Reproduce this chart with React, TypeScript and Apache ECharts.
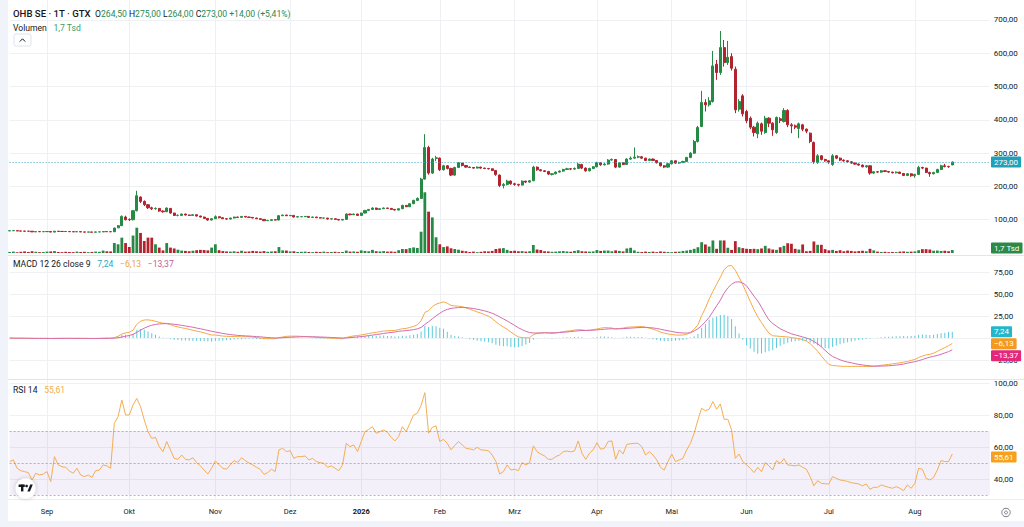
import React, { useEffect, useRef } from "react";
import * as echarts from "echarts";

// ---------- categories ----------
const FIRST_DAY = "2025-08-18";
const FUTURE_SLOTS = 10;
const HOLIDAYS = ["2025-12-24", "2025-12-25", "2025-12-26", "2025-12-31", "2026-01-01", "2026-04-03", "2026-04-06", "2026-05-01"];
const MONTH_NAMES = ["Jan", "Feb", "Mrz", "Apr", "Mai", "Jun", "Jul", "Aug", "Sep", "Okt", "Nov", "Dez"];

// ---------- series values ----------
// [open, close, low, high]
const ohlc: number[][] = [
  [66.5, 67.0, 66.0, 67.5], [67.0, 67.2, 66.5, 67.8], [67.0, 66.2, 65.8, 67.2], [66.2, 65.8, 65.4, 66.5], [65.8, 65.6, 65.0, 66.0],
  [65.6, 65.4, 65.0, 66.0], [65.4, 63.5, 63.0, 65.5], [63.5, 64.3, 63.2, 64.6], [64.3, 64.0, 63.6, 64.5], [64.0, 64.2, 63.8, 64.6],
  [64.2, 64.5, 64.0, 64.9], [64.5, 62.8, 62.5, 64.6], [62.8, 65.5, 62.6, 66.0], [65.5, 64.8, 64.4, 65.8], [64.8, 64.6, 64.2, 65.0],
  [64.6, 64.5, 64.0, 64.9], [64.5, 64.0, 63.7, 64.7], [64.0, 63.6, 63.3, 64.2], [63.6, 64.2, 63.4, 64.4], [64.2, 63.2, 63.0, 64.3],
  [63.2, 62.8, 62.5, 63.4], [62.8, 63.1, 62.6, 63.4], [63.1, 62.5, 62.2, 63.2], [62.5, 63.3, 62.3, 63.6], [63.3, 63.4, 63.0, 63.8],
  [63.4, 64.3, 63.2, 64.6], [64.3, 64.1, 63.8, 64.5], [64.1, 63.8, 63.4, 64.3],
  [63.8, 75, 63.5, 76], [75.5, 82, 75, 84], [82, 110, 81, 113], [108, 100, 98, 112], [101, 100, 96, 104], [100, 127, 98, 129], [127, 172, 125, 187],
  [168, 155, 150, 170], [155, 145, 141, 158], [145, 136, 132, 147], [136, 133, 129, 139], [133, 134, 130, 137],
  [134, 126, 124, 135], [126, 124, 121, 128], [124, 135, 123, 137], [134, 120, 118, 135], [120, 113, 111, 121],
  [113, 113, 110, 116], [113, 117, 112, 118], [117, 114, 113, 118], [114, 113, 111, 115], [113, 115, 112, 116],
  [115, 111, 110, 116], [111, 108, 107, 112], [108, 104, 103, 109], [104, 99, 97, 105], [99, 103, 98, 104],
  [103, 109, 102, 113], [109, 106, 104, 110], [106, 103, 102, 107], [103, 102, 100, 104], [102, 105, 101, 106],
  [105, 108, 104, 109], [108, 107, 106, 109], [107, 110, 106, 111], [110, 108, 107, 111], [108, 107, 105, 109],
  [107, 105, 104, 108], [105, 103, 102, 106], [103, 101, 100, 104], [101, 97, 96, 102], [97, 98, 96, 99],
  [98, 100, 97, 101], [100, 99, 98, 101], [99, 112, 98, 114], [112, 114, 111, 115], [114, 112, 111, 115],
  [112, 113, 111, 114], [113, 108, 107, 113], [108, 109, 107, 110], [109, 109, 108, 110], [109, 110, 108, 111],
  [110, 107, 106, 110], [107, 108, 106, 109], [108, 106, 105, 109], [106, 105, 104, 107], [105, 105, 103, 106],
  [105, 102, 101, 105], [102, 103, 101, 104], [103, 101, 100, 103], [101, 99, 98, 102], [99, 101, 98, 102],
  [101, 117, 100, 119], [117, 115, 113, 118], [115, 117, 114, 118], [117, 113, 112, 118], [113, 120, 112, 121],
  [120, 128, 119, 129], [128, 131, 126, 132], [131, 135, 130, 137], [135, 131, 130, 136], [131, 133, 130, 134],
  [133, 135, 132, 137], [135, 134, 133, 136], [134, 131, 130, 135], [131, 129, 128, 132], [129, 133, 128, 134],
  [133, 143, 132, 145], [143, 139, 138, 144], [139, 148, 138, 150], [148, 158, 147, 160], [158, 164, 156, 167],
  [164, 222, 163, 226], [222, 317, 220, 357], [317, 240, 235, 322], [240, 282, 238, 286], [284, 286, 276, 292],
  [285, 250, 246, 287], [250, 262, 248, 265], [262, 254, 251, 264], [254, 234, 231, 256], [234, 257, 232, 259],
  [257, 271, 255, 273], [270, 263, 260, 271], [263, 258, 256, 264], [258, 257, 255, 260], [257, 255, 253, 258],
  [255, 258, 254, 260], [258, 255, 253, 259], [255, 254, 252, 256], [254, 253, 251, 255], [253, 248, 246, 254],
  [248, 236, 232, 249], [234, 203, 198, 236], [203, 206, 194, 210], [206, 216, 203, 220], [216, 208, 205, 218],
  [208, 206, 202, 211], [206, 204, 200, 208], [204, 216, 203, 218], [216, 213, 210, 217], [213, 217, 211, 219],
  [217, 258, 216, 262], [258, 250, 247, 260], [250, 247, 245, 252], [247, 245, 243, 249], [245, 237, 234, 246],
  [236, 238, 233, 240], [238, 243, 236, 245], [243, 246, 241, 248], [246, 251, 244, 253], [251, 253, 249, 256],
  [253, 252, 249, 255], [252, 254, 250, 257], [254, 267, 253, 270], [266, 255, 252, 268], [255, 247, 244, 257],
  [247, 254, 245, 256], [254, 259, 252, 261], [259, 271, 257, 274], [271, 265, 262, 272], [265, 267, 263, 270],
  [267, 279, 265, 282], [279, 281, 277, 284], [281, 258, 255, 282], [258, 271, 256, 273], [271, 266, 264, 273],
  [266, 282, 265, 285], [282, 285, 280, 290], [285, 288, 283, 317], [288, 289, 285, 293], [289, 285, 283, 291],
  [285, 278, 276, 286], [278, 282, 276, 284], [282, 278, 276, 284], [278, 271, 269, 279], [271, 262, 260, 272],
  [262, 258, 255, 264], [258, 268, 256, 270], [268, 277, 266, 279], [277, 270, 268, 278], [270, 272, 268, 274],
  [272, 275, 270, 277], [275, 287, 273, 289], [287, 300, 285, 303], [300, 335, 298, 340], [335, 377, 332, 382],
  [380, 452, 378, 487], [452, 445, 425, 462], [445, 457, 440, 468], [455, 562, 452, 607], [567, 542, 520, 580],
  [542, 617, 535, 667], [617, 572, 560, 640], [572, 588, 565, 637], [590, 555, 548, 600], [552, 430, 420, 560],
  [432, 455, 425, 462], [472, 418, 410, 477], [425, 397, 390, 430], [405, 378, 372, 410], [378, 362, 350, 382],
  [358, 390, 345, 395], [388, 366, 355, 392], [362, 405, 358, 412], [405, 390, 378, 408], [390, 370, 352, 393],
  [362, 407, 358, 410], [403, 398, 390, 408], [395, 428, 392, 435], [428, 385, 378, 432], [385, 382, 360, 390],
  [382, 378, 372, 386], [374, 388, 345, 392], [385, 372, 366, 388], [372, 366, 360, 374], [360, 335, 330, 362],
  [332, 274, 268, 335], [272, 292, 268, 297], [292, 281, 278, 294], [281, 277, 274, 283], [277, 273, 268, 278],
  [266, 292, 262, 297], [292, 285, 282, 294], [285, 279, 276, 287], [279, 277, 274, 281], [277, 274, 271, 279],
  [274, 270, 268, 276], [270, 267, 265, 272], [267, 264, 262, 269], [264, 259, 257, 266], [259, 262, 256, 264],
  [262, 240, 235, 263], [240, 244, 238, 246], [244, 243, 241, 246], [243, 247, 241, 249], [247, 245, 243, 248],
  [245, 243, 241, 246], [243, 241, 239, 244], [241, 243, 239, 245], [243, 239, 237, 244], [239, 233, 231, 240],
  [233, 238, 231, 240], [238, 232, 229, 239], [232, 236, 226, 238], [236, 257, 234, 262], [257, 255, 252, 259],
  [255, 242, 240, 256], [242, 238, 229, 244], [238, 242, 236, 244], [242, 251, 240, 253], [251, 262, 249, 265],
  [262, 260, 257, 268], [260, 259, 256, 262], [264.5, 273, 264, 275],
];

// volume in thousands
const volumes: number[] = [
  0.6, 0.8, 0.5, 0.7, 0.9, 0.6, 1.0, 0.7, 0.5, 0.6, 0.8, 0.9, 1.1, 0.6, 0.5, 0.7, 0.6, 0.5, 0.8, 0.6, 0.7, 0.5, 0.6, 0.8, 0.7, 1.4, 1.0, 0.9,
  5.7, 5.0, 8.8, 5.7, 3.4, 10.0, 14.5,
  11.5, 6.9, 8.8, 8.8, 5.0, 3.1, 1.5, 5.7, 3.1, 2.6, 1.9, 1.4, 1.2, 1.0, 1.3,
  1.6, 1.8, 1.7, 1.5, 3.1, 5.0, 1.6, 1.1, 0.9, 0.8, 1.0, 0.7, 1.3, 0.8, 0.9,
  1.2, 1.0, 0.8, 1.1, 0.7, 0.9, 1.0, 3.4, 1.5, 1.4, 0.9, 1.0, 0.6, 0.7, 0.8,
  0.6, 0.5, 0.7, 0.6, 0.8, 0.5, 0.6, 0.7, 0.5, 0.6, 1.4, 0.8, 0.9, 0.7, 1.5,
  1.2, 1.0, 1.8, 1.0, 0.9, 1.1, 0.8, 0.9, 0.7, 1.6, 2.3, 2.2, 2.8, 3.2, 2.9,
  12.2, 34.8, 23.7, 20.4, 9.0, 5.0, 3.4, 3.8, 2.7, 2.3, 1.9, 1.3, 1.0, 0.6, 0.8,
  0.5, 0.7, 1.0, 0.9, 1.2, 2.3, 2.6, 2.8, 1.8, 1.2, 1.3, 1.0, 1.1, 0.8, 1.0,
  4.6, 2.0, 1.7, 1.0, 0.9, 0.7, 0.8, 1.0, 1.1, 0.9, 0.7, 1.2, 1.6, 1.0, 0.9,
  0.8, 0.9, 1.7, 1.2, 1.4, 1.4, 1.0, 1.5, 1.2, 0.9, 2.6, 3.0, 1.5, 0.7, 0.6,
  0.8, 0.6, 0.8, 0.5, 0.9, 0.7, 0.6, 0.5, 0.7, 0.8, 1.2, 1.4, 1.8, 2.4, 3.3,
  6.2, 4.9, 3.7, 7.2, 2.4, 7.2, 7.2, 3.0, 1.8, 6.8, 3.3, 2.8, 2.4, 2.3, 2.4,
  2.2, 2.6, 4.1, 2.6, 2.0, 1.8, 3.3, 4.1, 5.6, 5.3, 2.4, 2.0, 4.9, 1.0, 1.2,
  6.6, 4.7, 4.7, 2.2, 1.5, 1.8, 1.2, 1.6, 1.0, 1.4, 1.2, 0.9, 1.1, 1.3, 1.0,
  2.4, 1.5, 0.8, 0.6, 0.7, 0.5, 0.6, 0.5, 0.8, 0.9, 0.7, 0.8, 0.9, 1.6, 2.2,
  2.2, 2.0, 1.3, 1.4, 1.2, 1.3, 1.0, 1.7,
];

const macdLine: number[] = [
  -0.2, -0.2, -0.3, -0.3, -0.4, -0.4, -0.5, -0.5, -0.5, -0.5, -0.5, -0.6, -0.4, -0.4, -0.4, -0.4, -0.4, -0.5, -0.4, -0.5, -0.5, -0.5, -0.6, -0.5, -0.4, -0.3, -0.2, -0.2,
  0.5, 2.0, 4.5, 5.8, 6.4, 9.0, 15.5, 19.0, 20.5, 20.6, 20.0, 19.0, 17.8, 16.8, 16.5, 15.2, 13.6, 12.6, 11.6, 10.8, 9.8, 8.8, 7.8, 7.0, 5.8, 4.6, 3.4, 3.4, 2.8, 2.2, 1.9, 1.7, 1.6, 1.6, 1.4, 1.5, 1.4,
  1.0, 0.5, -0.1, -0.4, -0.7, -0.8, -0.7, 0.4, 1.2, 1.9, 2.1, 2.1, 2.1, 1.8, 1.6, 1.3, 1.0, 0.8, 0.5, 0.3, 0.1, -0.2, -0.3, -0.6, -0.9, 0.6, 1.6, 2.4, 2.8, 3.5, 4.2, 5.0, 5.9, 6.4, 7.2, 7.9, 8.2, 8.5, 8.6,
  9.6, 10.5, 10.9, 12.0, 13.2, 15.0, 19.5, 29.0, 31.0, 35.5, 38.5, 39.8, 41.1, 39.5, 37.0, 36.5, 36.2, 35.6, 34.2, 32.8, 31.2, 29.6, 28.2, 26.5, 24.8, 22.0, 18.5, 15.2, 12.4, 10.0,
  6.8, 3.8, 1.2, 0.5, 0.2, 0.4, 3.8, 5.2, 5.8, 6.2, 5.6, 5.2, 5.6, 6.5, 7.2, 7.8, 8.2, 9.0, 9.5, 9.3, 8.6, 8.8, 9.5, 10.2, 11.2, 11.8, 11.6, 11.4, 10.2, 10.8,
  11.2, 12.2, 12.5, 12.6, 12.9, 13.0, 12.3, 11.2, 10.0, 8.5, 6.8, 5.4, 4.6, 4.0, 3.4, 3.2, 3.4, 4.2,
  6.4, 10.0, 15.0, 25.3, 34.0, 44.2, 53.0, 61.1, 69.0, 77.5, 81.8, 82.5, 77.0, 69.0, 60.5, 51.0, 41.5, 32.0, 24.0, 17.5, 11.0, 5.5, 2.5, 2.2, 1.8, 1.5, 1.2, 0.5, 0.0, -0.8,
  -1.8, -3.5, -6.5, -10.5, -15.0, -20.5, -25.5, -30.0, -31.2, -31.6, -32.0,
  -32.2, -32.2, -32.3, -32.2, -32.2, -32.3, -32.4, -32.3, -32.0, -31.6, -31.0, -30.5, -30.0, -29.4, -28.8, -28.2, -27.4, -26.7, -25.5, -24.3, -22.2, -20.5, -19.2, -18.5, -17.2, -15.2, -13.0, -11.0, -8.8, -6.13,
];

const signalLine: number[] = [
  -0.1, -0.1, -0.2, -0.2, -0.2, -0.3, -0.3, -0.4, -0.4, -0.4, -0.4, -0.5, -0.5, -0.5, -0.4, -0.4, -0.4, -0.4, -0.4, -0.4, -0.4, -0.5, -0.5, -0.5, -0.5, -0.4, -0.4, -0.3,
  -0.2, 0.3, 1.1, 2.0, 2.9, 4.1, 6.4, 8.9, 11.2, 13.1, 14.5, 15.4, 16.0, 16.2, 16.3, 16.1, 15.6, 15.0, 14.4, 13.7, 13.0, 12.2, 11.3, 10.5, 9.6, 8.6, 7.6, 6.8, 6.0, 5.2, 4.5, 3.9, 3.4, 3.0, 2.7, 2.4, 2.2,
  1.9, 1.6, 1.3, 0.9, 0.6, 0.3, 0.1, 0.1, 0.3, 0.6, 0.9, 1.1, 1.3, 1.4, 1.5, 1.4, 1.4, 1.3, 1.1, 1.0, 0.8, 0.6, 0.4, 0.2, 0.0, 0.1, 0.4, 0.8, 1.2, 1.6, 2.1, 2.7, 3.3, 3.9, 4.5, 5.2, 5.8, 6.3, 6.8,
  7.6, 8.0, 8.4, 8.9, 9.5, 10.4, 12.0, 15.4, 18.5, 21.9, 25.2, 28.1, 30.7, 32.5, 33.6, 34.2, 34.6, 34.8, 34.6, 34.1, 33.5, 32.7, 31.8, 30.8, 29.6, 28.1, 26.2, 24.0, 21.7, 19.4,
  16.9, 14.3, 11.7, 9.5, 7.6, 6.2, 5.7, 5.6, 5.7, 5.8, 5.9, 5.9, 6.0, 6.2, 6.5, 6.9, 7.3, 7.8, 8.2, 8.5, 8.6, 8.7, 8.9, 9.2, 9.6, 10.0, 10.3, 10.5, 10.4, 10.5,
  10.6, 10.9, 11.2, 11.5, 11.8, 12.0, 12.1, 11.8, 11.4, 10.8, 10.0, 9.1, 8.2, 7.4, 6.6, 6.0, 5.7, 5.6,
  5.9, 8.0, 10.5, 14.0, 18.5, 23.4, 30.0, 36.6, 43.0, 51.0, 57.0, 61.0, 63.6, 63.8, 62.5, 59.3, 53.5, 47.5, 42.0, 35.0, 27.2, 20.5, 16.5, 13.5, 10.5, 8.5, 6.5, 4.8, 3.6, 2.4,
  1.2, 0.0, -1.5, -4.0, -6.5, -10.0, -14.0, -18.0, -21.0, -23.0, -24.8,
  -26.2, -27.3, -28.2, -29.2, -30.0, -30.6, -31.2, -31.7, -32.0, -32.0, -31.9, -31.8, -31.5, -31.2, -30.8, -30.3, -29.6, -28.6, -27.8, -26.8, -25.8, -24.5, -23.0, -21.8, -20.8, -19.8, -18.5, -17.0, -15.5, -13.37,
];

const histogram: number[] = [
  -0.1, -0.1, -0.1, -0.1, -0.2, -0.1, -0.2, -0.1, -0.1, -0.1, -0.1, -0.1, 0.1, 0.1, 0.0, 0.0, 0.0, -0.1, 0.0, -0.1, -0.1, 0.0, -0.1, 0.0, 0.1, 0.1, 0.2, 0.1,
  0.7, 1.7, 3.4, 3.8, 3.5, 4.9, 9.1, 10.1, 9.3, 7.5, 5.5, 3.6, 1.8, 0.6, 0.2, -0.9, -2.0, -2.4, -2.8, -2.9, -3.2, -3.4, -3.5, -3.5, -3.8, -4.0, -4.2, -3.4, -3.2, -3.0, -2.6, -2.2, -1.8, -1.4, -1.3, -0.9, -0.8,
  -0.9, -1.1, -1.4, -1.3, -1.3, -1.1, -0.8, 0.3, 0.9, 1.3, 1.2, 1.0, 0.8, 0.4, 0.1, -0.1, -0.4, -0.5, -0.6, -0.7, -0.7, -0.8, -0.7, -0.8, -0.9, 0.5, 1.2, 1.6, 1.6, 1.9, 2.1, 2.3, 2.6, 2.5, 2.7, 2.7, 2.4, 2.2, 1.8,
  2.0, 2.5, 2.5, 3.1, 3.7, 4.6, 7.5, 13.6, 12.5, 13.6, 13.3, 11.7, 10.4, 7.0, 3.4, 2.3, 1.6, 0.8, -0.4, -1.3, -2.3, -3.1, -3.6, -4.3, -4.8, -6.1, -7.7, -8.8, -9.3, -9.4,
  -10.1, -10.5, -10.5, -9.0, -7.4, -5.8, -1.9, -0.4, 0.1, 0.4, -0.3, -0.7, -0.4, 0.3, 0.7, 0.9, 0.9, 1.2, 1.3, 0.8, 0.0, 0.1, 0.6, 1.0, 1.6, 1.8, 1.3, 0.9, -0.2, 0.3,
  0.6, 1.3, 1.3, 1.1, 1.1, 1.0, 0.2, -0.6, -1.4, -2.3, -3.2, -3.7, -3.6, -3.4, -3.2, -2.8, -2.3, -1.4,
  0.5, 2.0, 4.5, 11.3, 15.5, 20.8, 23.0, 24.5, 26.0, 26.5, 24.8, 21.5, 13.4, 5.2, -2.0, -8.3, -12.0, -15.5, -18.0, -17.5, -16.2, -15.0, -14.0, -11.3, -8.7, -7.0, -5.3, -4.3, -3.6, -3.2,
  -3.0, -3.5, -5.0, -6.5, -8.5, -10.5, -11.5, -12.0, -10.2, -8.6, -7.2,
  -6.0, -4.9, -4.1, -3.0, -2.2, -1.7, -1.2, -0.6, 0.0, 0.4, 0.9, 1.3, 1.5, 1.8, 2.0, 2.1, 2.2, 1.9, 2.3, 2.5, 3.6, 4.0, 3.8, 3.3, 3.6, 4.6, 5.5, 6.0, 6.7, 7.24,
];

const rsi: number[] = [
  50.9, 51.9, 46.7, 45.2, 44.6, 44.0, 39.4, 43.6, 42.5, 43.1, 44.6, 38.4, 54.0, 48.8, 47.7, 47.3, 45.0, 43.6, 46.7, 42.5,
  41.5, 42.5, 41.0, 45.2, 45.6, 48.8, 48.2, 46.7, 74.8, 79.0, 89.4, 80.0, 80.0, 86.3, 90.4, 85.2, 76.9, 69.6, 65.4, 66.0,
  60.2, 57.1, 63.4, 58.2, 52.9, 52.3, 55.0, 52.3, 51.9, 53.3, 50.2, 48.2, 45.6, 43.1, 46.7, 51.3, 48.8, 46.7, 46.1, 48.8,
  51.5, 50.4, 53.3, 51.5, 50.0, 48.8, 47.3, 46.1, 42.9, 44.0, 46.1, 44.6, 58.2, 59.2, 57.1, 57.7, 52.9, 54.0, 54.0, 54.4,
  51.9, 52.9, 50.9, 50.2, 49.8, 47.3, 48.2, 46.7, 45.2, 48.8, 62.3, 60.2, 61.3, 57.1, 63.4, 69.6, 71.0, 72.7, 68.6, 69.6,
  70.7, 69.2, 66.0, 63.8, 66.5, 72.7, 69.6, 74.8, 80.0, 81.1, 86.0, 94.0, 68.6, 72.3, 73.2, 63.4, 64.8, 62.3, 58.2, 61.0,
  63.4, 61.3, 59.2, 58.8, 58.2, 59.8, 58.2, 58.0, 57.7, 55.0, 50.9, 43.1, 44.6, 48.8, 45.6, 46.1, 45.2, 50.2, 48.8, 50.2,
  60.7, 57.1, 55.6, 54.4, 52.3, 52.3, 54.0, 55.0, 57.1, 57.5, 57.0, 57.5, 63.8, 56.1, 52.3, 56.1, 58.2, 62.7, 58.6, 59.2,
  63.4, 63.8, 52.3, 58.2, 55.6, 61.7, 62.0, 62.3, 62.3, 60.2, 55.0, 57.1, 55.0, 51.9, 47.3, 45.6, 50.9, 55.6, 50.9, 51.9,
  52.9, 58.2, 62.3, 68.6, 76.9, 84.2, 82.7, 83.6, 88.4, 83.6, 86.9, 77.3, 77.3, 70.7, 52.9, 55.6, 50.9, 48.8, 46.7, 44.0,
  47.3, 44.6, 50.2, 48.2, 45.6, 51.5, 49.8, 52.7, 48.8, 48.5, 48.2, 48.8, 47.3, 46.1, 41.5, 35.7, 39.0, 37.3, 37.0, 36.9,
  41.5, 40.4, 39.4, 39.0, 38.5, 37.7, 37.3, 36.9, 35.7, 36.9, 33.6, 34.8, 34.8, 36.3, 35.5, 34.8, 34.2, 35.2, 34.2, 32.7,
  36.3, 34.2, 37.3, 46.7, 46.1, 40.4, 39.4, 41.0, 45.6, 51.5, 50.9, 50.9, 55.61,
];

// ---------- tick settings ----------
const PRICE_AXIS = { min: 0, max: 760, step: 100, lastLabel: 700 };
const MACD_AXIS = { min: -50, max: 100, step: 25, labels: [75, 50, 25, -25] };
const RSI_AXIS = { min: 20, max: 100, step: 20, lo: 40 };
const RSI_BAND = [70, 30];
const RSI_MID = 50;

// ---------- helpers ----------
function tradingDays(start: string, count: number, holidays: string[]): string[] {
  const out: string[] = [];
  const d = new Date(start + "T00:00:00Z");
  while (out.length < count) {
    const wd = d.getUTCDay();
    const iso = d.toISOString().slice(0, 10);
    if (wd !== 0 && wd !== 6 && !holidays.includes(iso)) out.push(iso);
    d.setUTCDate(d.getUTCDate() + 1);
  }
  return out;
}
const dates = tradingDays(FIRST_DAY, ohlc.length + FUTURE_SLOTS, HOLIDAYS);
const isMonthStart = (i: number) => i > 0 && dates[i].slice(0, 7) !== dates[i - 1].slice(0, 7);
const monthLabel = (iso: string) => {
  const m = +iso.slice(5, 7);
  return m === 1 ? `{y|${iso.slice(0, 4)}}` : MONTH_NAMES[m - 1];
};
const fmt = (v: number) => (v < 0 ? "\u2212" : "") + Math.abs(v).toFixed(2).replace(".", ",");
const fmtSigned = (v: number) => (v < 0 ? "\u2212" : "+") + Math.abs(v).toFixed(2).replace(".", ",");

const FONT = "Roboto, 'Noto Sans', Arial, sans-serif";
const TEXT = "#131722";
const UP = "#268a45";
const DOWN = "#b3232d";
const GRIDC = "#eef0f4";
const T = "rgba(0,0,0,0)";
const C_HIST = "#5ccadb";
const C_MACD = "#f6a945";
const C_SIG = "#d46bb0";
const C_RSI = "#f4ad55";
const LEFT = 9.6;
const RIGHT = 34.3;
const TAG_X = 991;

function buildOption(): any {
  const last = ohlc.length - 1;
  const baseX = (gridIndex: number) => ({
    type: "category",
    gridIndex,
    data: dates,
    boundaryGap: false,
    axisLine: { show: false },
    axisTick: { show: false },
    axisLabel: { show: false },
    splitLine: { show: false },
  });
  const axisLabelStyle = { color: TEXT, fontSize: 8, fontFamily: FONT, margin: 4 };
  const priceLineColors = [T];
  for (let v = PRICE_AXIS.min + PRICE_AXIS.step; v <= PRICE_AXIS.lastLabel; v += PRICE_AXIS.step) priceLineColors.push(GRIDC);
  priceLineColors.push(T);

  return {
    animation: false,
    backgroundColor: "#ffffff",
    textStyle: { fontFamily: FONT },
    grid: [
      { left: LEFT, right: RIGHT, top: 0, height: 253, containLabel: false, outerBoundsMode: "none" },
      { left: LEFT, right: RIGHT, top: 250, height: 132, containLabel: false, outerBoundsMode: "none" },
      { left: LEFT, right: RIGHT, top: 383, height: 128, containLabel: false, outerBoundsMode: "none" },
      { left: LEFT, right: RIGHT, top: 0, height: 499, containLabel: false, outerBoundsMode: "none" },
    ],
    xAxis: [
      baseX(0),
      baseX(1),
      {
        ...baseX(2),
        axisLabel: {
          show: true,
          interval: (i: number) => isMonthStart(i),
          formatter: (val: string, i: number) => (isMonthStart(i) ? monthLabel(val) : ""),
          color: TEXT,
          fontSize: 7.5,
          fontFamily: FONT,
          margin: -4,
          rich: { y: { fontWeight: "bold", fontSize: 7.5, color: TEXT, fontFamily: FONT } },
        },
      },
      {
        ...baseX(3),
        splitLine: { show: true, interval: (i: number) => isMonthStart(i), lineStyle: { color: GRIDC, width: 1 } },
      },
    ],
    yAxis: [
      {
        type: "value", gridIndex: 0, position: "right", min: PRICE_AXIS.min, max: PRICE_AXIS.max, interval: PRICE_AXIS.step,
        axisLine: { show: false }, axisTick: { show: false },
        axisLabel: { ...axisLabelStyle, formatter: (v: number) => (v > PRICE_AXIS.min && v <= PRICE_AXIS.lastLabel ? fmt(v) : "") },
        splitLine: { show: true, lineStyle: { color: priceLineColors, width: 1 } },
      },
      { type: "value", gridIndex: 0, min: 0, max: 145, show: false, splitLine: { show: false } },
      {
        type: "value", gridIndex: 1, position: "right", min: MACD_AXIS.min, max: MACD_AXIS.max, interval: MACD_AXIS.step,
        axisLine: { show: false }, axisTick: { show: false },
        axisLabel: { ...axisLabelStyle, formatter: (v: number) => (MACD_AXIS.labels.includes(v) ? fmt(v) : "") },
        splitLine: { show: true, lineStyle: { color: [T, GRIDC, GRIDC, GRIDC, GRIDC, GRIDC, T], width: 1 } },
      },
      {
        type: "value", gridIndex: 2, position: "right", min: RSI_AXIS.min, max: RSI_AXIS.max, interval: RSI_AXIS.step,
        axisLine: { show: false }, axisTick: { show: false },
        axisLabel: { ...axisLabelStyle, formatter: (v: number) => (v >= RSI_AXIS.lo ? fmt(v) : "") },
        splitLine: { show: true, lineStyle: { color: [T, GRIDC, GRIDC, GRIDC, GRIDC], width: 1 } },
      },
      { type: "value", gridIndex: 3, show: false, splitLine: { show: false } },
    ],
    series: [
      {
        type: "bar",
        name: "Volumen",
        xAxisIndex: 0,
        yAxisIndex: 1,
        barWidth: 2.8,
        z: 1,
        data: volumes.map((v, i) => ({ value: v, itemStyle: { color: ohlc[i][1] >= ohlc[i][0] ? UP : DOWN } })),
      },
      {
        type: "candlestick",
        name: "OHB",
        xAxisIndex: 0,
        yAxisIndex: 0,
        barWidth: 2.6,
        z: 3,
        data: ohlc,
        itemStyle: { color: UP, color0: DOWN, borderColor: UP, borderColor0: DOWN, borderWidth: 1 },
        markLine: {
          silent: true,
          symbol: ["none", "none"],
          label: { show: false },
          lineStyle: { color: "#3aa9c2", type: [1, 2], width: 1 },
          data: [{ yAxis: ohlc[last][1] }],
        },
      },
      {
        type: "bar",
        name: "Histogramm",
        xAxisIndex: 1,
        yAxisIndex: 2,
        barWidth: 1,
        z: 2,
        itemStyle: { color: C_HIST },
        data: histogram,
      },
      {
        type: "line",
        name: "MACD",
        xAxisIndex: 1,
        yAxisIndex: 2,
        showSymbol: false,
        z: 3,
        lineStyle: { color: C_MACD, width: 1 },
        data: macdLine,
      },
      {
        type: "line",
        name: "Signal",
        xAxisIndex: 1,
        yAxisIndex: 2,
        showSymbol: false,
        z: 4,
        lineStyle: { color: C_SIG, width: 1 },
        data: signalLine,
      },
      {
        type: "line",
        name: "RSI",
        xAxisIndex: 2,
        yAxisIndex: 3,
        showSymbol: false,
        z: 3,
        lineStyle: { color: C_RSI, width: 1 },
        data: rsi,
        markArea: {
          silent: true,
          itemStyle: { color: "rgba(126, 87, 194, 0.09)" },
          data: [[{ yAxis: RSI_BAND[0] }, { yAxis: RSI_BAND[1] }]],
        },
        markLine: {
          silent: true,
          symbol: ["none", "none"],
          label: { show: false },
          lineStyle: { color: "rgba(120,123,134,0.55)", type: [2, 2], width: 1 },
          data: [{ yAxis: RSI_BAND[0] }, { yAxis: RSI_MID }, { yAxis: RSI_BAND[1] }],
        },
      },
    ],
  };
}

function buildGraphics(chart: any): any[] {
  const last = ohlc.length - 1;
  const o = ohlc[last];
  const prevClose = ohlc[last - 1][1];
  const chg = o[1] - prevClose;
  const pct = (chg / prevClose) * 100;
  const vol = volumes[last];
  const volText = vol.toFixed(1).replace(".", ",") + " Tsd";
  const py = (axis: number, v: number) => chart.convertToPixel({ yAxisIndex: axis }, v) as number;

  const tag = (id: string, y: number, text: string, bg: string) => ({
    type: "text",
    id,
    x: TAG_X,
    y,
    z: 30,
    style: {
      text,
      fill: "#ffffff",
      backgroundColor: bg,
      padding: [2, 3, 1, 3],
      fontSize: 8,
      fontFamily: FONT,
      verticalAlign: "middle",
      align: "left",
      borderRadius: 1,
    },
  });

  // MACD tags, pushed apart like the reference scale
  const macdTags = [
    { id: "tH", v: histogram[last], bg: "#24b6cc" },
    { id: "tM", v: macdLine[last], bg: "#f59a20" },
    { id: "tS", v: signalLine[last], bg: "#e3287b" },
  ]
    .map((t) => ({ ...t, y: py(2, t.v) }))
    .sort((a, b) => a.y - b.y);
  for (let i = 1; i < macdTags.length; i++) {
    if (macdTags[i].y < macdTags[i - 1].y + 12) macdTags[i].y = macdTags[i - 1].y + 12;
  }

  const G = "#1f8a55";
  const rich = (extra: any) => ({
    d: { fill: TEXT, fontSize: 8.6, fontFamily: FONT },
    ...extra,
  });

  return [
    // gray frame strips
    { type: "rect", id: "stripL", z: 100, shape: { x: 0, y: 0, width: 8, height: 527 }, style: { fill: "#f0f3fa" } },
    { type: "rect", id: "stripB", z: 100, shape: { x: 0, y: 521, width: 1024, height: 6 }, style: { fill: "#f0f3fa" } },
    // pane separators
    { type: "line", id: "sep1", z: 5, shape: { x1: 8, y1: 255.5, x2: 1024, y2: 255.5 }, style: { stroke: "#e3e5eb", lineWidth: 1 } },
    { type: "line", id: "sep2", z: 5, shape: { x1: 8, y1: 379.5, x2: 1024, y2: 379.5 }, style: { stroke: "#e3e5eb", lineWidth: 1 } },
    { type: "line", id: "sep3", z: 5, shape: { x1: 8, y1: 499.5, x2: 1024, y2: 499.5 }, style: { stroke: "#eceef2", lineWidth: 1 } },
    // header
    {
      type: "text",
      id: "hdr",
      x: 13,
      y: 13.5,
      z: 30,
      style: {
        text:
          `{s|OHB SE · 1T · GTX}  {k|O}{v|${fmt(o[0])}} {k|H}{v|${fmt(o[3])}} {k|L}{v|${fmt(o[2])}} {k|C}{v|${fmt(o[1])}} ` +
          `{v|${fmtSigned(chg)} (${fmtSigned(pct)}%)}`,
        verticalAlign: "middle",
        fontSize: 8.6,
        fontFamily: FONT,
        fill: TEXT,
        rich: {
          s: { fill: TEXT, fontSize: 9.6, fontFamily: FONT, fontWeight: 500 },
          k: { fill: TEXT, fontSize: 8.6, fontFamily: FONT },
          v: { fill: G, fontSize: 8.6, fontFamily: FONT },
        },
      },
    },
    {
      type: "text",
      id: "volLegend",
      x: 13,
      y: 27.5,
      z: 30,
      style: {
        text: `{d|Volumen}  {g|${volText}}`,
        verticalAlign: "middle",
        rich: rich({ g: { fill: "#3c9a5f", fontSize: 8.6, fontFamily: FONT } }),
      },
    },
    // collapse button
    { type: "rect", id: "btn", z: 30, shape: { x: 14, y: 34, width: 17, height: 12, r: 2 }, style: { fill: "#ffffff", stroke: "#e0e3eb", lineWidth: 1 } },
    { type: "polyline", id: "btnChev", z: 31, shape: { points: [[19.8, 41.6], [22.5, 38.8], [25.2, 41.6]] }, style: { stroke: TEXT, lineWidth: 1, fill: "none" } },
    {
      type: "text",
      id: "macdLegend",
      x: 13,
      y: 263.5,
      z: 30,
      style: {
        text: `{d|MACD 12 26 close 9}  {h|${fmt(histogram[last])}}  {m|${fmt(macdLine[last])}}  {s|${fmt(signalLine[last])}}`,
        verticalAlign: "middle",
        rich: rich({
          h: { fill: "#26a9c0", fontSize: 8.6, fontFamily: FONT },
          m: { fill: "#f0a33c", fontSize: 8.6, fontFamily: FONT },
          s: { fill: "#c45a9f", fontSize: 8.6, fontFamily: FONT },
        }),
      },
    },
    {
      type: "text",
      id: "rsiLegend",
      x: 13,
      y: 390,
      z: 30,
      style: {
        text: `{d|RSI 14}  {r|${fmt(rsi[last])}}`,
        verticalAlign: "middle",
        rich: rich({ r: { fill: "#f0ae48", fontSize: 8.6, fontFamily: FONT } }),
      },
    },
    // logo badge
    { type: "circle", id: "logoBg", z: 30, shape: { cx: 25.5, cy: 488.5, r: 10 }, style: { fill: "#ffffff", shadowBlur: 4, shadowColor: "rgba(0,0,0,0.22)" } },
    { type: "rect", id: "logoT1", z: 31, shape: { x: 18.6, y: 484.6, width: 6.2, height: 2.4 }, style: { fill: "#131722" } },
    { type: "rect", id: "logoT2", z: 31, shape: { x: 21.0, y: 484.6, width: 2.4, height: 6.8 }, style: { fill: "#131722" } },
    { type: "circle", id: "logoDot", z: 31, shape: { cx: 26.6, cy: 486.0, r: 1.3 }, style: { fill: "#131722" } },
    { type: "polygon", id: "logoV", z: 31, shape: { points: [[27.4, 491.4], [30.2, 484.6], [32.8, 484.6], [29.9, 491.4]] }, style: { fill: "#131722" } },
    // settings icon
    { type: "circle", id: "gear1", z: 30, shape: { cx: 1006, cy: 512.5, r: 4.2 }, style: { fill: "none", stroke: "#787b86", lineWidth: 1 } },
    { type: "circle", id: "gear2", z: 30, shape: { cx: 1006, cy: 512.5, r: 1.5 }, style: { fill: "none", stroke: "#787b86", lineWidth: 1 } },
    // scale tags
    tag("tPrice", py(0, o[1]), fmt(o[1]), "#22a0b8"),
    tag("tVol", py(1, vol) - 2, volText, "#2b8a47"),
    ...macdTags.map((t) => tag(t.id, t.y, fmt(t.v), t.bg)),
    tag("tRsi", py(3, rsi[last]) + 3, fmt(rsi[last]), "#f6a11d"),
  ];
}

export default function App() {
  const ref = useRef<HTMLDivElement>(null);
  useEffect(() => {
    const el = ref.current;
    if (!el) return;
    const chart = echarts.init(el, undefined, { renderer: "svg", width: 1024, height: 527 });
    chart.setOption(buildOption());
    chart.setOption({ graphic: { elements: buildGraphics(chart) } });
    return () => chart.dispose();
  }, []);
  return <div ref={ref} style={{ position: "absolute", left: 0, top: 0, width: 1024, height: 527 }} />;
}
